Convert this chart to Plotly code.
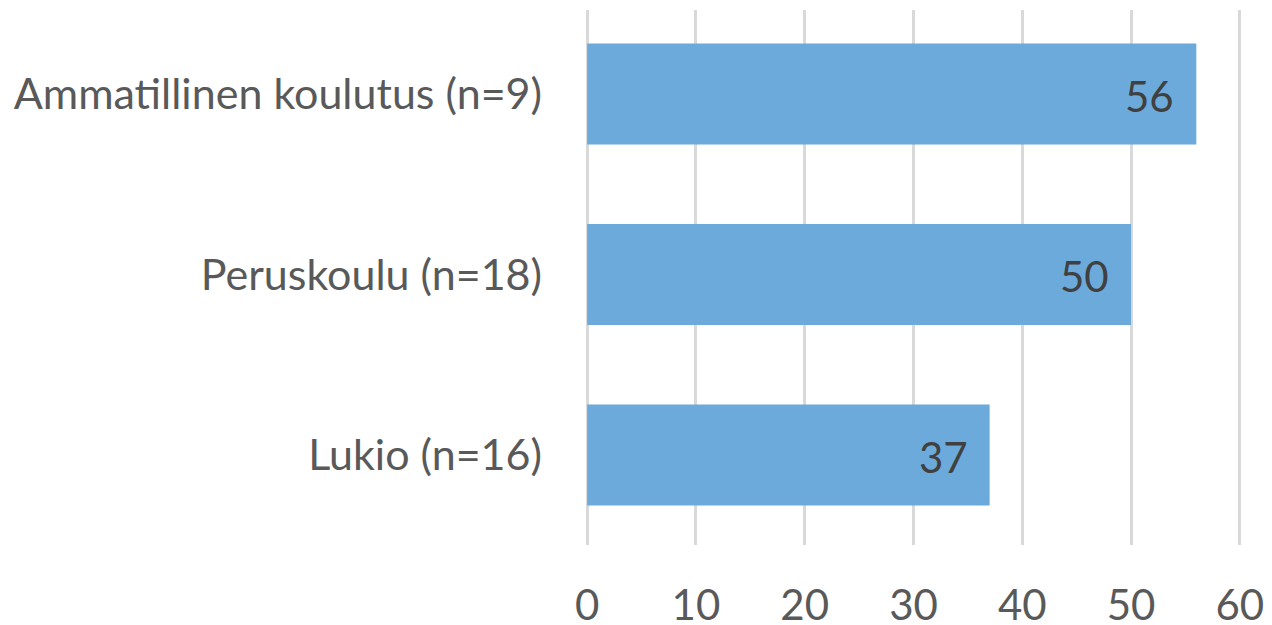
import plotly.graph_objects as go

categories = ["Lukio (n=16)", "Peruskoulu (n=18)", "Ammatillinen koulutus (n=9)"]
values = [37, 50, 56]
x_ticks = [0, 10, 20, 30, 40, 50, 60]

FONT = "Lato"
fig = go.Figure()
fig.add_trace(go.Bar(
    y=categories, x=values, orientation="h",
    marker=dict(color="#6BAADB", line=dict(width=0)),
    width=0.56, hoverinfo="skip",
))
for c, v in zip(categories, values):
    fig.add_annotation(x=v, y=c, text=str(v), showarrow=False, xanchor="right",
                       xshift=-20, yshift=-2,
                       font=dict(family=FONT, size=42, color="#404040"))

fig.update_layout(
    width=1272, height=625,
    margin=dict(l=585, r=30, t=10, b=80, autoexpand=False),
    paper_bgcolor="white", plot_bgcolor="white",
    showlegend=False, bargap=0.44,
    font=dict(family=FONT, color="#595959", size=42),
)
fig.update_xaxes(range=[-0.2, 60.2], tickvals=x_ticks, showgrid=True,
                 gridcolor="#D9D9D9", gridwidth=3, zeroline=False, showline=False,
                 ticks="", ticklabelstandoff=32, automargin=False,
                 tickfont=dict(family=FONT, size=42, color="#595959"))
fig.update_yaxes(range=[-0.4986, 2.465], showgrid=False, zeroline=False, showline=False,
                 ticks="", ticklabelstandoff=42, automargin=False,
                 tickfont=dict(family=FONT, size=43, color="#595959"))

fig.write_html("out.html", config={"displayModeBar": False},
               post_script="document.body.style.margin='0';document.body.style.overflow='hidden';")
